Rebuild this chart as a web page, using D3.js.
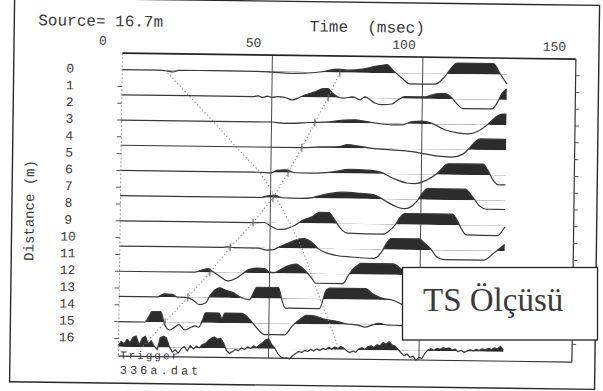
<!DOCTYPE html>
<html>
<head>
<meta charset="utf-8">
<script src="https://cdn.jsdelivr.net/npm/d3@7"></script>
<style>
  html, body { margin: 0; padding: 0; background: #fff; }
  svg { display: block; }
  text { font-family: "Liberation Mono", "DejaVu Sans Mono", monospace; fill: #3a3a3a; }
</style>
</head>
<body>
<svg id="chart" width="603" height="391"></svg>
<script>
// ---- data -------------------------------------------------------------
const sourceLabel = "Source= 16.7m";
const fileLabel = "336a.dat";
const timeTicks = [0, 50, 100, 150];               // ms
const distanceTicks = d3.range(0, 17);             // m
const traceDistances = [0, 1.5, 3, 4.5, 6, 7.5, 9, 10.5, 12, 13.5, 15, 16.5];

// traces: [time ms, normalised amplitude], display clipped at +/-1
const trace0 = [[0,0],[12,0],[15,-0.05],[17,-0.15],[19,0],[30,0.02],[45,0],[50,-0.05],[56,-0.13],[61,-0.1],[66.5,0.05],[71.8,0.3],[75,0.22],[79.8,0.33],[83.1,0.54],[86.4,0.7],[88.1,0.77],[90.1,0.28],[93.1,-0.43],[95.8,-0.95],[104.1,-0.95],[107.4,-0.24],[109.7,0.63],[111.4,1],[123.4,1],[125.7,0.1],[128,-0.85]];
const trace1 = [[0,0],[44,0],[45.5,0.08],[47,-0.08],[48.5,0.06],[50,-0.06],[52,0.02],[54.5,-0.05],[56.7,-0.25],[59,-0.05],[61,0.2],[64.3,0.5],[67,0.8],[68.6,0.82],[70.3,0.37],[71.9,0.08],[73.6,-0.04],[76.9,0.1],[79.3,-0.17],[80.9,0.11],[84.2,-0.44],[86.6,-0.58],[89.9,-0.51],[91.9,-0.13],[94.2,0.17],[100.9,0.18],[105.2,0.5],[107.5,0.5],[109.8,0.13],[111.8,-0.5],[113.5,-0.84],[123.1,-0.84],[125.1,-0.17],[126.4,0.57],[128,1]];
const trace2 = [[0,0],[50,0],[54,-0.1],[58,-0.1],[62,0],[67.8,0.05],[74.4,0.26],[77.7,0.3],[81.1,0.18],[85.4,0],[90,-0.12],[93.4,-0.1],[96.7,0.2],[100,0.26],[103.3,0.07],[107.6,-0.5],[112,-0.77],[115.3,-0.85],[118.6,-0.6],[121.6,0],[123.3,0.42],[125.2,0.85],[126.6,1],[128,1]];
const trace3 = [[0,0],[60,0],[66,0.08],[72,0.12],[75.5,0.32],[78.8,0.22],[83.5,0.02],[90,-0.1],[96.8,-0.23],[101,-0.42],[105.4,-0.62],[110,-0.68],[113.7,-0.4],[116,0.2],[118,0.8],[119.4,1],[128,1]];
const trace4 = [[0,0],[46,0],[50,-0.05],[52,0.2],[55,0.25],[58,0],[64,-0.02],[70,0.1],[76.3,0.37],[81.9,0.32],[86.2,0.18],[90.6,-0.38],[95.2,-0.8],[97.9,-0.85],[101.9,-0.49],[105.2,0.1],[106.8,0.55],[108.2,0.92],[108.8,1],[120.5,1],[122.1,0.44],[123.8,-0.42],[125.5,-0.85],[128,-0.85]];
const trace5 = [[0,0],[47,0],[49,0.15],[51.5,0.2],[53.8,0],[60,-0.04],[64,0.05],[66.4,0.25],[69.8,0.45],[74.1,0.58],[79.7,0.5],[84.1,0.4],[88.7,-0.25],[92,-0.7],[94.4,-0.85],[96.5,-0.7],[98.5,-0.2],[100.5,0.6],[102,1],[114.6,1],[117.3,0.25],[119.6,-0.55],[121.9,-0.8],[128,-0.8]];
const trace6 = [[0,0],[44,0],[48,0.02],[50.6,-0.35],[52.6,-0.6],[54.9,-0.55],[58.2,-0.2],[60.9,0.3],[63.9,0.6],[65.5,0.92],[66.5,1],[69.5,1],[71,0.5],[72.5,-0.1],[74,-0.6],[75.8,-0.85],[87.5,-0.9],[89.5,-0.6],[91.5,-0.05],[93.2,0.7],[94.8,1],[110.4,1],[112.2,0.4],[113.7,-0.4],[115.3,-0.87],[125.4,-0.9],[128,-0.1]];
const trace7 = [[0,0],[34,0],[36,0.05],[38,0],[46,-0.02],[49,-0.2],[51.3,-0.15],[52.3,0],[56.3,0.5],[59.6,0.85],[61.3,0.9],[64.6,0.4],[66,0],[69,-0.4],[72.2,-0.6],[76.9,-0.72],[84.5,-0.82],[87.2,-0.2],[88.8,0.6],[90.2,1],[99.5,1],[101.5,0.6],[103.5,0.1],[105.4,-0.6],[107.8,-0.85],[121.1,-0.85],[124.4,-0.2],[128,0.6]];
const trace8 = [[0,0],[25,0],[27.5,0.2],[29.6,0.35],[31,0.1],[33.6,-0.37],[36.2,-0.75],[38.9,-0.5],[41.2,-0.06],[43,0.3],[46,0.45],[48.5,0.4],[49.8,0.12],[51.5,0.05],[54,0.4],[56.1,0.7],[58.8,0.85],[60.5,0.6],[62.1,0.2],[64,-0.4],[65.4,-0.86],[74.4,-0.86],[76,-0.2],[77.7,0.5],[79.4,0.85],[80.2,1],[91,1],[93.4,0.6],[96,-0.2],[98,-0.85],[116,-0.85],[120,-0.2],[124,0.3],[128,0.4]];
const trace9 = [[0,0],[13,0],[15,0.3],[17.8,0.25],[19.5,0],[22.2,0],[24.5,-0.2],[26.8,-0.65],[28.8,-0.5],[30.5,0.27],[33.5,0.9],[35.5,0.7],[37.8,0.5],[41.1,0],[43.4,-0.15],[44.6,0.4],[45.8,1],[53,1],[54.4,-0.3],[55.4,-0.87],[66.7,-0.87],[68.7,0.68],[70,1],[82,1],[84.3,0.54],[87.6,0.15],[90.9,0],[95,-0.5],[98,-0.85],[112,-0.85],[118,0.3],[128,0.5]];
const trace10 = [[0,0],[8.8,0],[10.1,0.5],[11.1,0.96],[14,0.96],[15.4,-0.22],[17.1,-0.7],[18.7,-0.45],[20.1,-0.2],[22.1,-0.68],[24.4,-0.4],[25.4,-0.3],[26.7,-0.4],[28,0.3],[28.9,0.9],[33.4,0.9],[34.4,0.4],[35.3,0.9],[41,0.9],[44.3,0.13],[46.6,-0.6],[48.6,-1],[55.3,-1],[57.6,-0.24],[60,0.36],[62.6,0.8],[64.3,0.78],[68,0.5],[73.2,0.25],[75.2,0.1],[79.9,-0.05],[81.9,-0.2],[86.5,0.16],[89.8,0],[93,0],[100,-0.3],[110,0.2],[128,0]];
// nearest trace to the source, sampled every 1 ms
const trace11 = [0.1,0.5,0.3,0.7,0.4,0.9,1.0,0.2,0.8,1.0,0.3,0.6,0.1,-0.2,0.9,1.0,0.9,0.1,-0.4,-0.2,-0.5,-0.1,0.1,-0.3,0.2,-0.1,0.15,0.0,0.3,0.4,0.7,0.9,1.0,0.8,0.9,0.5,-0.2,-0.45,-0.3,-0.1,-0.2,0.05,-0.1,0.15,0.0,0.25,0.1,0.35,0.55,0.8,0.9,0.4,0.1,-0.4,-0.7,-0.85,-0.8,-0.9,-0.6,-0.4,-0.2,-0.3,-0.1,-0.2,0.0,-0.15,0.05,-0.1,0.1,0.0,0.2,0.05,0.25,0.1,0.3,0.15,-0.1,-0.25,-0.1,-0.2,0.1,0.2,0.05,0.3,0.4,0.25,0.5,0.4,0.7,0.55,0.8,0.5,0.4,0.1,-0.2,-0.45,-0.3,-0.6,-0.5,-0.85,-0.6,-0.7,-0.2,0.1,0.2,0.05,0.25,0.15,0.3,0.2,0.3,0.1,0.2,-0.05,0.1,-0.1,0.05,0.15,0.05,0.2,0.1,0.25,0.15,0.3,0.2,0.35,0.25,0.5,0.2];

// first-break picks (ms) per trace, for the two travel-time lines
const picksForward = [14.4, 22.5, 30.6, 38.3, 46.4, 51.8, 56.6, 60.7, 63.8, 66.9, 70.3, 73.4];
const picksReverse = [72.5, 68.7, 64.4, 60.2, 55.7, 50.8, 44.3, 36.8, 30.2, 23.0, 15.5, 8.0];

// ---- layout -----------------------------------------------------------
const svg = d3.select("#chart");
svg.append("rect").attr("width", 603).attr("height", 391).attr("fill", "#fff");
const defs = svg.append("defs");
// the scanned sheet sits slightly askew
const g = svg.append("g").attr("transform", "rotate(0.75 300 200)");

const x = d3.scaleLinear().domain([0, 150]).range([120, 571.5]);
const yD = d3.scaleLinear().domain([0, 16]).range([72, 340.8]);
const amp = d3.scaleLinear().domain([-1, 1]).range([11, -11]);
const box = { left: 120.5, right: 574, top: 55.5, bottom: 358.5 };

// outer frame
g.append("rect").attr("x", 12).attr("y", 1.5).attr("width", 585).attr("height", 384)
  .attr("fill", "none").attr("stroke", "#2a2a2a").attr("stroke-width", 1.4);

// time gridlines
g.selectAll(".grid").data([50, 100]).join("line")
  .attr("x1", d => x(d)).attr("x2", d => x(d))
  .attr("y1", box.top).attr("y2", box.bottom)
  .attr("stroke", "#4a4a4a").attr("stroke-width", 1);

// traces
function drawTrace(pts, base, curve, id) {
  defs.append("clipPath").attr("id", id)
    .append("rect").attr("x", 100).attr("y", base - 40).attr("width", 500).attr("height", 40);
  g.append("path").datum(pts)
    .attr("clip-path", `url(#${id})`)
    .attr("fill", "#2c2c2c")
    .attr("d", d3.area().x(d => x(d[0])).y0(base).y1(d => base + amp(d[1])).curve(curve));
  g.append("path").datum(pts)
    .attr("fill", "none").attr("stroke", "#383838").attr("stroke-width", 1.2)
    .attr("stroke-linejoin", "round")
    .attr("d", d3.line().x(d => x(d[0])).y(d => base + amp(d[1])).curve(curve));
}
const smoothTraces = [trace0, trace1, trace2, trace3, trace4, trace5, trace6, trace7, trace8, trace9, trace10];
smoothTraces.forEach((pts, i) => drawTrace(pts, yD(traceDistances[i]), d3.curveMonotoneX, "pos" + i));
drawTrace(trace11.map((v, t) => [t, v]), yD(traceDistances[11]), d3.curveLinear, "pos11");

// travel-time lines through the picks
const pickLine = d3.line().x(d => x(d[0])).y(d => yD(d[1]));
[picksForward, picksReverse].forEach(p => {
  g.append("path").datum(p.map((t, i) => [t, traceDistances[i]]))
    .attr("fill", "none").attr("stroke", "#8c8c8c").attr("stroke-width", 1.1)
    .attr("stroke-dasharray", "1.2,2.4").attr("d", pickLine);
});
g.selectAll(".pick").data(picksReverse.slice(0, 11)).join("line")
  .attr("x1", d => x(d)).attr("x2", d => x(d))
  .attr("y1", (d, i) => yD(traceDistances[i]) - 4).attr("y2", (d, i) => yD(traceDistances[i]) + 4)
  .attr("stroke", "#555").attr("stroke-width", 1);

// plot box
g.append("line").attr("x1", box.left).attr("x2", box.right).attr("y1", box.top).attr("y2", box.top)
  .attr("stroke", "#222").attr("stroke-width", 1.6);
g.append("line").attr("x1", box.right).attr("x2", box.right).attr("y1", box.top).attr("y2", box.bottom)
  .attr("stroke", "#333").attr("stroke-width", 1.2);
g.append("line").attr("x1", box.left).attr("x2", box.right).attr("y1", box.bottom).attr("y2", box.bottom)
  .attr("stroke", "#333").attr("stroke-width", 1.2);
g.append("line").attr("x1", box.left).attr("x2", box.left).attr("y1", box.top).attr("y2", box.bottom)
  .attr("stroke", "#9a9a9a").attr("stroke-width", 1).attr("stroke-dasharray", "2,2");

// distance ticks
g.selectAll(".ltick").data(distanceTicks.slice(1)).join("line")
  .attr("x1", box.left - 4.5).attr("x2", box.left).attr("y1", d => yD(d)).attr("y2", d => yD(d))
  .attr("stroke", "#555").attr("stroke-width", 1);
g.selectAll(".rtick").data(distanceTicks).join("line")
  .attr("x1", box.right).attr("x2", box.right + 4).attr("y1", d => yD(d)).attr("y2", d => yD(d))
  .attr("stroke", "#555").attr("stroke-width", 1);

// axis labels
g.selectAll(".dlab").data(distanceTicks).join("text")
  .attr("x", 68.5).attr("y", d => yD(d) - 1).attr("dy", "0.35em")
  .attr("text-anchor", "middle").attr("font-size", 13).text(d => d);
g.selectAll(".tlab").data(timeTicks).join("text")
  .attr("x", d => x(d) - 19).attr("y", 47.5)
  .attr("text-anchor", "middle").attr("font-size", 13).text(d => d);
g.append("text").attr("x", 365).attr("y", 31.3).attr("text-anchor", "middle")
  .attr("font-size", 16).text("Time  (msec)").attr("xml:space", "preserve").style("white-space", "pre");
g.append("text").attr("x", 36).attr("y", 28.6).attr("font-size", 16).text(sourceLabel);
g.append("text").attr("transform", "translate(34,214) rotate(-90)").attr("text-anchor", "middle")
  .attr("font-size", 14).text("Distance (m)");
g.append("text").attr("x", 122).attr("y", 361).attr("font-size", 11).attr("letter-spacing", 2).text("Trigger");
g.append("text").attr("x", 122).attr("y", 376).attr("font-size", 12).attr("letter-spacing", 3).text(fileLabel);

// caption box
svg.append("rect").attr("x", 402.5).attr("y", 267.5).attr("width", 195).attr("height", 72.5)
  .attr("fill", "#fff").attr("stroke", "#222").attr("stroke-width", 1.3);
svg.append("text").attr("x", 423).attr("y", 311)
  .style("font-family", "'Liberation Serif', 'DejaVu Serif', serif")
  .attr("font-size", 33).attr("fill", "#222").text("TS Ölçüsü");
</script>
</body>
</html>
